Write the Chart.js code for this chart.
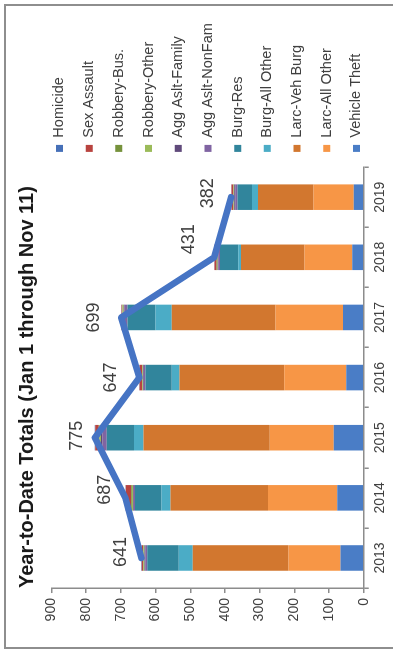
<!DOCTYPE html>
<html>
<head>
<meta charset="utf-8">
<script src="https://cdn.jsdelivr.net/npm/chart.js@4.4.0/dist/chart.umd.min.js"></script>
<style>
  html, body { margin: 0; padding: 0; background: #fff; }
  body { width: 393px; height: 652px; position: relative; overflow: hidden; }
  #frame {
    position: absolute; left: 4px; top: 4px; width: 400px; height: 641px;
    border: 2px solid #8e8e8e; border-right: none;
  }
  /* chart is drawn landscape, then turned a quarter turn to the left */
  #wrap {
    position: absolute; left: 0; top: 0; width: 652px; height: 393px;
    transform-origin: 0 0; transform: translateY(652px) rotate(-90deg);
  }
</style>
</head>
<body>
<div id="frame"></div>
<div id="wrap"><canvas id="chart" width="652" height="393"></canvas></div>
<script>
const years = ["2013", "2014", "2015", "2016", "2017", "2018", "2019"];

// stack order, bottom to top
const vehicleTheft = [67, 76, 86, 50, 60, 33, 29];
const larcAllOther = [150, 200, 185, 179, 194, 138, 116];
const larcVehBurg = [276, 281, 364, 302, 299, 183, 160];
const burgAllOther = [40, 26, 27, 22, 47, 8, 17];
const burgRes = [91, 76, 79, 76, 81, 52, 42];
const aggAsltNonFam = [6, 4, 12, 5, 9, 5, 6];
const aggAsltFamily = [2, 2, 4, 2, 2, 2, 3];
const robberyOther = [3, 3, 5, 2, 3, 2, 2];
const robberyBus = [1, 2, 2, 1, 1, 1, 1];
const sexAssault = [4, 16, 10, 7, 2, 6, 5];
const homicide = [1, 1, 1, 1, 1, 1, 1];

const totals = [641, 687, 775, 647, 699, 431, 382];

const valueMax = 900;
const valueStep = 100;

// label nudges (dx, dy) from each point of the totals line
const labelNudge = [[6, -20], [8, -20], [2, -18], [0, -28], [0, -27], [18, -25], [4, -23]];

const FONT = "'Liberation Sans', Arial, sans-serif";
Chart.defaults.font.family = FONT;

const series = [
  { label: "Vehicle Theft", data: vehicleTheft, color: "#4a7dc6" },
  { label: "Larc-All Other", data: larcAllOther, color: "#f79646" },
  { label: "Larc-Veh Burg", data: larcVehBurg, color: "#d2772f" },
  { label: "Burg-All Other", data: burgAllOther, color: "#4bacc6" },
  { label: "Burg-Res", data: burgRes, color: "#31859c" },
  { label: "Agg Aslt-NonFam", data: aggAsltNonFam, color: "#8064a2" },
  { label: "Agg Aslt-Family", data: aggAsltFamily, color: "#604a7b" },
  { label: "Robbery-Other", data: robberyOther, color: "#9bbb59" },
  { label: "Robbery-Bus.", data: robberyBus, color: "#76923c" },
  { label: "Sex Assault", data: sexAssault, color: "#b8433f" },
  { label: "Homicide", data: homicide, color: "#4670b8" },
];

// Totals written next to the line
const totalLabels = {
  id: "totalLabels",
  afterDatasetsDraw(chart) {
    const meta = chart.getDatasetMeta(0);
    const ctx = chart.ctx;
    ctx.save();
    ctx.font = "18px " + FONT;
    ctx.fillStyle = "#404040";
    ctx.textAlign = "center";
    ctx.textBaseline = "middle";
    meta.data.forEach((pt, i) => {
      const [dx, dy] = labelNudge[i];
      ctx.fillText(String(totals[i]), pt.x + dx, pt.y + dy);
    });
    ctx.restore();
  },
};

const axisColor = "#8c8c8c";

const ctx = document.getElementById("chart").getContext("2d");
new Chart(ctx, {
  type: "bar",
  data: {
    labels: years,
    datasets: [
      {
        type: "line",
        label: "Total",
        data: totals,
        stack: "total",
        order: 0,
        borderColor: "#4674c4",
        borderWidth: 6.5,
        borderCapStyle: "round",
        borderJoinStyle: "round",
        pointRadius: 0,
        tension: 0,
        fill: false,
      },
      ...series.map((s) => ({
        label: s.label,
        data: s.data,
        backgroundColor: s.color,
        stack: "crime",
        order: 1,
        borderWidth: 0,
        categoryPercentage: 0.85,
        barPercentage: 0.5,
      })),
    ],
  },
  options: {
    responsive: false,
    animation: false,
    layout: { padding: { left: 25.6, right: 14, top: 0, bottom: 1.5 } },
    plugins: {
      tooltip: { enabled: false },
      title: {
        display: true,
        text: "Year-to-Date Totals (Jan 1 through Nov 11)",
        align: "start",
        fullSize: false,
        color: "#1a1a1a",
        font: { size: 20, weight: "bold" },
        padding: { top: 15, bottom: 12.5 },
      },
      legend: {
        position: "right",
        align: "start",
        reverse: true,
        title: { display: true, text: " ", font: { size: 10 }, padding: { top: 25, bottom: 0 } },
        labels: {
          boxWidth: 7,
          boxHeight: 7,
          padding: 15.2,
          color: "#404040",
          font: { size: 14.5 },
          filter: (item) => item.datasetIndex !== 0,
        },
      },
    },
    scales: {
      x: {
        stacked: true,
        grid: {
          display: true,
          drawOnChartArea: false,
          tickLength: 5,
          color: axisColor,
          lineWidth: 1.5,
          offset: true,
        },
        border: { color: axisColor, width: 1.5 },
        ticks: { color: "#404040", font: { size: 14 }, padding: 3, maxRotation: 0 },
      },
      y: {
        stacked: true,
        min: 0,
        max: valueMax,
        grid: { drawOnChartArea: false, tickLength: 5, color: axisColor, lineWidth: 1.5 },
        border: { color: axisColor, width: 1.5 },
        ticks: { stepSize: valueStep, color: "#404040", font: { size: 14 }, padding: 5 },
      },
    },
  },
  plugins: [totalLabels],
});
</script>
</body>
</html>
